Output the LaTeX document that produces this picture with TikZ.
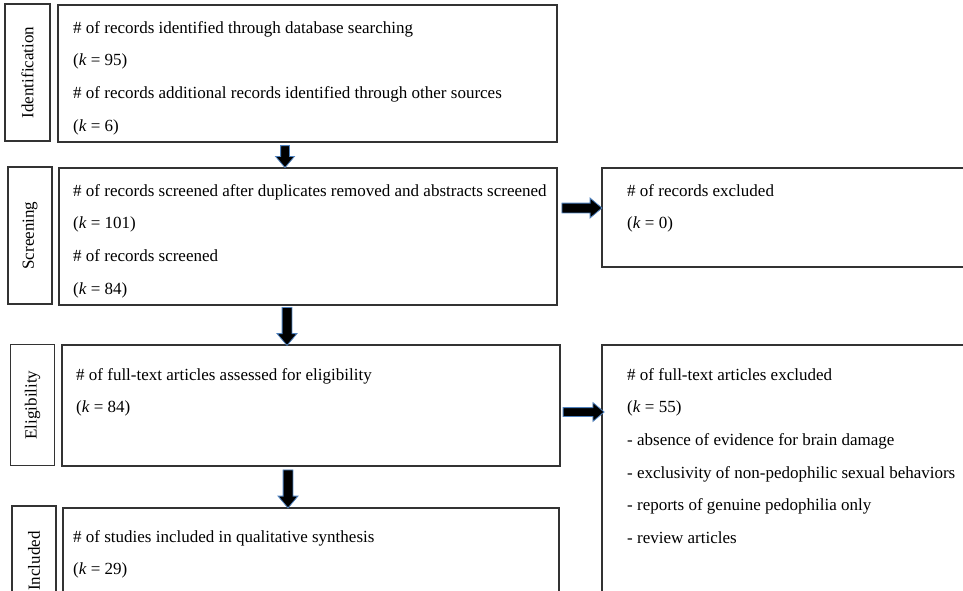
\documentclass[tikz,border=0pt]{standalone}
\usepackage{fontspec}
\setmainfont{Liberation Serif}
\usetikzlibrary{positioning,shapes.arrows}
\definecolor{arrowedge}{RGB}{79,129,189}
\tikzset{
  box/.style={draw=black!80,line width=1.5pt,rectangle,anchor=north west,inner sep=0pt},
  stage/.style={draw=black!80,line width=1.5pt,rectangle,rotate=90,inner sep=0pt,font=\fontsize{17}{20}\selectfont},
  txt/.style={align=left,inner sep=0pt,anchor=north west,font=\fontsize{17}{32.7}\selectfont},
  blockarrow/.style={single arrow,fill=black,draw=arrowedge,line width=0.8pt,
    single arrow head extend=5pt,single arrow tip angle=80,inner xsep=0pt,inner ysep=4.5pt}
}
\begin{document}
\begin{tikzpicture}[x=1pt,y=1pt]
\useasboundingbox (0,0) rectangle (963,-590);
\clip (0,0) rectangle (963,-590);
% stage labels
\node[stage,minimum width=137,minimum height=45] (idlbl) at (27.5,-72.5) {Identification};
\node[stage,minimum width=137,minimum height=44] (scrlbl) at (30,-235.5) {Screening};
\node[stage,minimum width=121,minimum height=44] (elilbl) at (32.5,-405) {Eligibility};
\node[stage,minimum width=110,minimum height=44] (inclbl) at (34,-561) {Included};
% boxes
\node[box,minimum width=499,minimum height=137] (idbox) at (57,-4) {};
\node[box,minimum width=498,minimum height=137] (scrbox) at (58,-167) {};
\node[box,minimum width=498,minimum height=121] (elibox) at (61,-344) {};
\node[box,minimum width=496,minimum height=110] (incbox) at (62,-507) {};
\node[box,minimum width=380,minimum height=99] (excone) at (601,-167) {};
\node[box,minimum width=380,minimum height=270] (exctwo) at (601,-344) {};
% texts
\node[txt,below right=17pt and 16pt of idbox.north west] (idtxt) {\# of records identified through database searching\\
(\textit{k} = 95)\\
\# of records additional records identified through other sources\\
(\textit{k} = 6)};
\node[txt,below right=17pt and 15pt of scrbox.north west] (scrtxt) {\# of records screened after duplicates removed and abstracts screened\\
(\textit{k} = 101)\\
\# of records screened\\
(\textit{k} = 84)};
\node[txt,below right=24pt and 15pt of elibox.north west] (elitxt) {\# of full-text articles assessed for eligibility\\
(\textit{k} = 84)};
\node[txt,below right=23pt and 11pt of incbox.north west] (inctxt) {\# of studies included in qualitative synthesis\\
(\textit{k} = 29)};
\node[txt,below right=17pt and 26pt of excone.north west] (exconetxt) {\# of records excluded\\
(\textit{k} = 0)};
\node[txt,below right=24pt and 26pt of exctwo.north west] (exctwotxt) {\# of full-text articles excluded\\
(\textit{k} = 55)\\
- absence of evidence for brain damage\\
- exclusivity of non-pedophilic sexual behaviors\\
- reports of genuine pedophilia only\\
- review articles};
% arrows
\node[blockarrow,rotate=-90,minimum height=22,inner ysep=4pt] (arrone) at (285,-154) {};
\node[blockarrow,rotate=-90,minimum height=38] (arrtwo) at (287,-323.5) {};
\node[blockarrow,rotate=-90,minimum height=38] (arrthree) at (288,-486) {};
\node[blockarrow,minimum height=40] (arrfour) at (579,-208) {};
\node[blockarrow,minimum height=41,inner ysep=4pt] (arrfive) at (581,-412) {};
\end{tikzpicture}
\end{document}
